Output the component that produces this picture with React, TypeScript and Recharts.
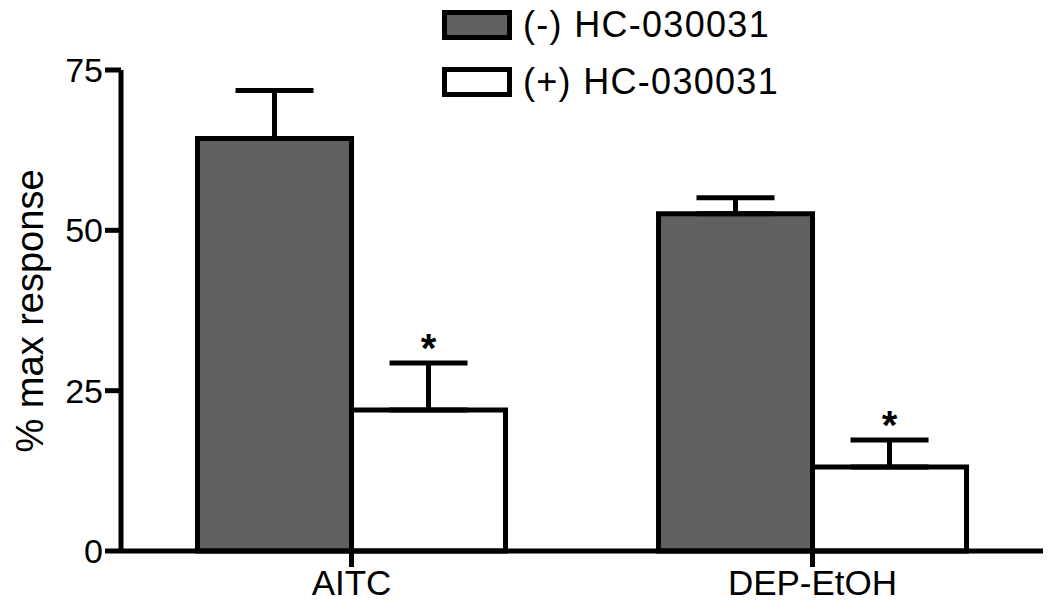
import React from 'react'
import { BarChart, Bar, XAxis, YAxis, ErrorBar, Legend, LabelList } from 'recharts'

const categories = ['AITC', 'DEP-EtOH']
const withoutHC = [64.3, 52.6]
const withoutHCErr = [7.5, 2.5]
const withHC = [22.0, 13.1]
const withHCErr = [7.3, 4.2]
const significant = ['*', '*']
const yTicks = [0, 25, 50, 75]
const seriesNames = ['(-) HC-030031', '(+) HC-030031']
const seriesFills = ['#606060', '#ffffff']

const FONT = '"Liberation Sans", Arial, sans-serif'
const LINE = 5

const data = categories.map((name, i) => ({
  name,
  minus: withoutHC[i],
  minusErr: [0, withoutHCErr[i]],
  plus: withHC[i],
  plusErr: [0, withHCErr[i]],
  sig: significant[i]
}))

// star sits just above the error bar cap
const renderStar = (props: any) => {
  const vb = props.viewBox || props
  const i = props.index ?? 0
  const h = Math.abs(vb.height)
  const top = Math.min(vb.y, vb.y + vb.height)
  const perUnit = h / withHC[i]
  const capY = top - withHCErr[i] * perUnit
  return (
    <text
      x={vb.x + vb.width / 2}
      y={capY - 1}
      textAnchor="middle"
      fontSize={40}
      fontWeight="bold"
      fontFamily={FONT}
      fill="#000"
    >
      {props.value}
    </text>
  )
}

// keep legend order as in the figure
const renderLegend = () => (
  <div style={{ fontFamily: FONT }}>
    {seriesNames.map((label, i) => (
      <div
        key={`leg-${i}`}
        style={{ display: 'flex', alignItems: 'center', height: 30, marginBottom: i === 0 ? 27 : 0 }}
      >
        <div
          style={{
            width: 70,
            height: 30,
            boxSizing: 'border-box',
            border: '5px solid #000',
            background: seriesFills[i]
          }}
        />
        <span style={{ marginLeft: 11, fontSize: 36, lineHeight: 1, color: '#000', letterSpacing: 1.3 }}>
          {label}
        </span>
      </div>
    ))}
  </div>
)

export default function App() {
  return (
    <div style={{ position: 'absolute', left: 0, top: 0, width: 1050, height: 610, background: '#fff' }}>
      <BarChart
        width={1050}
        height={610}
        data={data}
        margin={{ top: 70, right: 7, left: 0, bottom: 0 }}
        barCategoryGap="16.6%"
        barGap={0}
      >
        <XAxis
          dataKey="name"
          axisLine={{ stroke: '#000', strokeWidth: LINE }}
          tickLine={{ stroke: '#000', strokeWidth: LINE }}
          tickSize={16}
          tickMargin={3}
          height={59}
          tick={{ fill: '#000', fontSize: 35, fontFamily: FONT }}
        />
        <YAxis
          domain={[0, 75]}
          ticks={yTicks}
          width={121}
          axisLine={{ stroke: '#000', strokeWidth: LINE }}
          tickLine={{ stroke: '#000', strokeWidth: LINE }}
          tickSize={16}
          tickMargin={2}
          tick={{ fill: '#000', fontSize: 34, fontFamily: FONT }}
          label={{
            content: () => (
              <text
                x={43}
                y={311}
                transform="rotate(-90 43 311)"
                textAnchor="middle"
                fontSize={38}
                fontFamily={FONT}
                fill="#000"
              >
                % max response
              </text>
            )
          }}
        />
        <Legend
          layout="horizontal"
          verticalAlign="middle"
          align="center"
          wrapperStyle={{ top: 10, left: 442, width: 'auto' }}
          content={renderLegend}
        />
        <Bar
          dataKey="minus"
          name={seriesNames[0]}
          fill={seriesFills[0]}
          stroke="#000"
          strokeWidth={LINE}
          isAnimationActive={false}
        >
          <ErrorBar dataKey="minusErr" width={39} stroke="#000" strokeWidth={LINE} direction="y" />
        </Bar>
        <Bar
          dataKey="plus"
          name={seriesNames[1]}
          fill={seriesFills[1]}
          stroke="#000"
          strokeWidth={LINE}
          isAnimationActive={false}
        >
          <ErrorBar dataKey="plusErr" width={39} stroke="#000" strokeWidth={LINE} direction="y" />
          <LabelList dataKey="sig" content={renderStar} />
        </Bar>
      </BarChart>
    </div>
  )
}
